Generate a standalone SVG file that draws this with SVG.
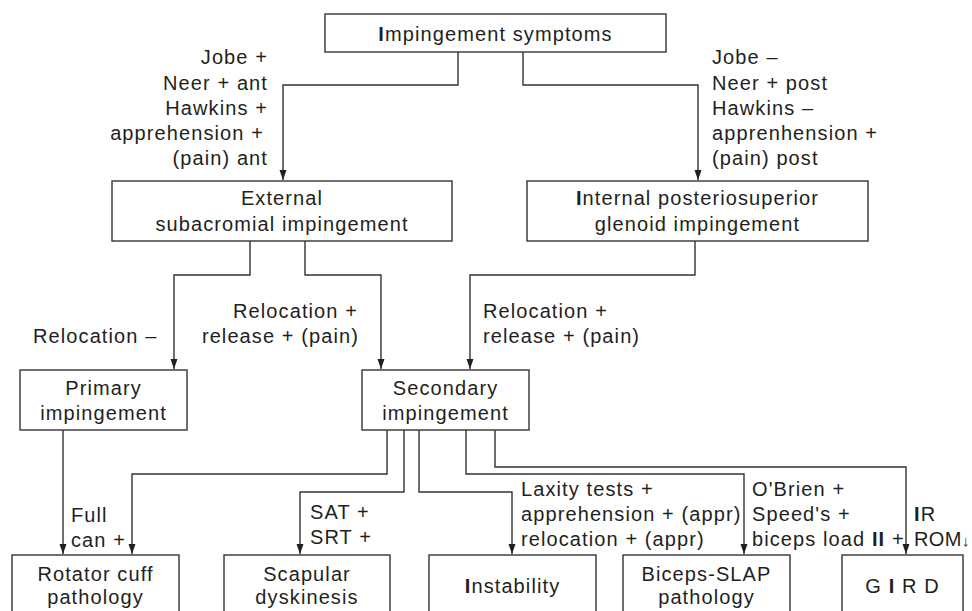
<svg xmlns="http://www.w3.org/2000/svg" width="972" height="611" viewBox="0 0 972 611">
<defs>
<style>
text{font-family:"Liberation Sans",Arial,"DejaVu Sans",sans-serif;font-size:20px;fill:#231f20;letter-spacing:1.1px}
.c{text-anchor:middle}
.e{text-anchor:end}
.b{font-weight:bold}
.t{letter-spacing:0.4px}
rect{fill:#fff;stroke:#333;stroke-width:1.4}
#connectors path{fill:none;stroke:#333;stroke-width:1.4}
</style>
<marker id="ah" markerUnits="userSpaceOnUse" markerWidth="10" markerHeight="8" refX="10" refY="4" orient="auto">
<path d="M0,0.5 L10,4 L0,7.5 z" fill="#231f20"/>
</marker>
</defs>
<rect x="0" y="0" width="972" height="611" style="fill:#fff;stroke:none"/>

<g id="connectors">
<path d="M458,52 V85 H283 V180" marker-end="url(#ah)"/>
<path d="M523,52 V85 H698 V180" marker-end="url(#ah)"/>
<path d="M250,241 V275 H174 V369" marker-end="url(#ah)"/>
<path d="M305,241 V275 H381 V369" marker-end="url(#ah)"/>
<path d="M695,241 V275 H470 V369" marker-end="url(#ah)"/>
<path d="M63,430 V554" marker-end="url(#ah)"/>
<path d="M387,430 V474 H132 V554" marker-end="url(#ah)"/>
<path d="M404,430 V492 H300 V554" marker-end="url(#ah)"/>
<path d="M419,430 V492 H512 V554" marker-end="url(#ah)"/>
<path d="M466,430 V474 H744 V554" marker-end="url(#ah)"/>
<path d="M495,430 V467 H906 V554" marker-end="url(#ah)"/>
</g>

<g id="labels">
<text class="e" x="268" y="64">Jobe +</text>
<text class="e" x="268" y="90">Neer + ant</text>
<text class="e" x="268" y="115">Hawkins +</text>
<text class="e" x="264" y="140">apprehension +</text>
<text class="e" x="268" y="165">(pain) ant</text>
<text x="712" y="64">Jobe –</text>
<text x="712" y="90">Neer + post</text>
<text x="712" y="115">Hawkins –</text>
<text x="712" y="140">apprenhension +</text>
<text x="712" y="165">(pain) post</text>
<text x="33" y="343">Relocation –</text>
<text class="e" x="358" y="318">Relocation +</text>
<text class="e" x="359" y="343">release + (pain)</text>
<text x="483" y="318">Relocation +</text>
<text x="483" y="343">release + (pain)</text>
<text x="71" y="522">Full</text>
<text x="71" y="547">can +</text>
<text x="310" y="519">SAT +</text>
<text x="310" y="544">SRT +</text>
<text x="521" y="496">Laxity tests +</text>
<text x="521" y="521">apprehension + (appr)</text>
<text x="521" y="546">relocation + (appr)</text>
<text x="752" y="496">O'Brien +</text>
<text x="752" y="521">Speed's +</text>
<text x="752" y="546">biceps load <tspan class="b">II</tspan> +</text>
<text x="914" y="521"><tspan class="b">I</tspan>R</text>
<text class="t" x="914" y="546">ROM<tspan font-size="15">↓</tspan></text>
</g>

<g id="n-symptoms">
<rect x="325" y="14" width="341" height="38"/>
<text class="c" x="495.5" y="41"><tspan class="b">I</tspan>mpingement symptoms</text>
</g>
<g id="n-external">
<rect x="112" y="181" width="340" height="60"/>
<text class="c" x="282" y="205">External</text>
<text class="c" x="282" y="231">subacromial impingement</text>
</g>
<g id="n-internal">
<rect x="527" y="181" width="341" height="60"/>
<text class="c" x="697.5" y="205"><tspan class="b">I</tspan>nternal posteriosuperior</text>
<text class="c" x="697.5" y="231">glenoid impingement</text>
</g>
<g id="n-primary">
<rect x="20" y="370" width="167" height="60"/>
<text class="c" x="103.5" y="395">Primary</text>
<text class="c" x="103.5" y="420">impingement</text>
</g>
<g id="n-secondary">
<rect x="362" y="370" width="167" height="60"/>
<text class="c" x="445.5" y="395">Secondary</text>
<text class="c" x="445.5" y="420">impingement</text>
</g>
<g id="n-rotator">
<rect x="12" y="555" width="167" height="70"/>
<text class="c" x="95.5" y="581">Rotator cuff</text>
<text class="c" x="95.5" y="604">pathology</text>
</g>
<g id="n-scapular">
<rect x="224" y="555" width="166" height="70"/>
<text class="c" x="307" y="581">Scapular</text>
<text class="c" x="307" y="604">dyskinesis</text>
</g>
<g id="n-instability">
<rect x="429" y="555" width="167" height="70"/>
<text class="c" x="512.5" y="593"><tspan class="b">I</tspan>nstability</text>
</g>
<g id="n-biceps">
<rect x="623" y="555" width="167" height="70"/>
<text class="c" x="706.5" y="581">Biceps-SLAP</text>
<text class="c" x="706.5" y="604">pathology</text>
</g>
<g id="n-gird">
<rect x="842" y="555" width="121" height="70"/>
<text class="c" x="902.5" y="593">G <tspan class="b">I</tspan> R D</text>
</g>
</svg>
